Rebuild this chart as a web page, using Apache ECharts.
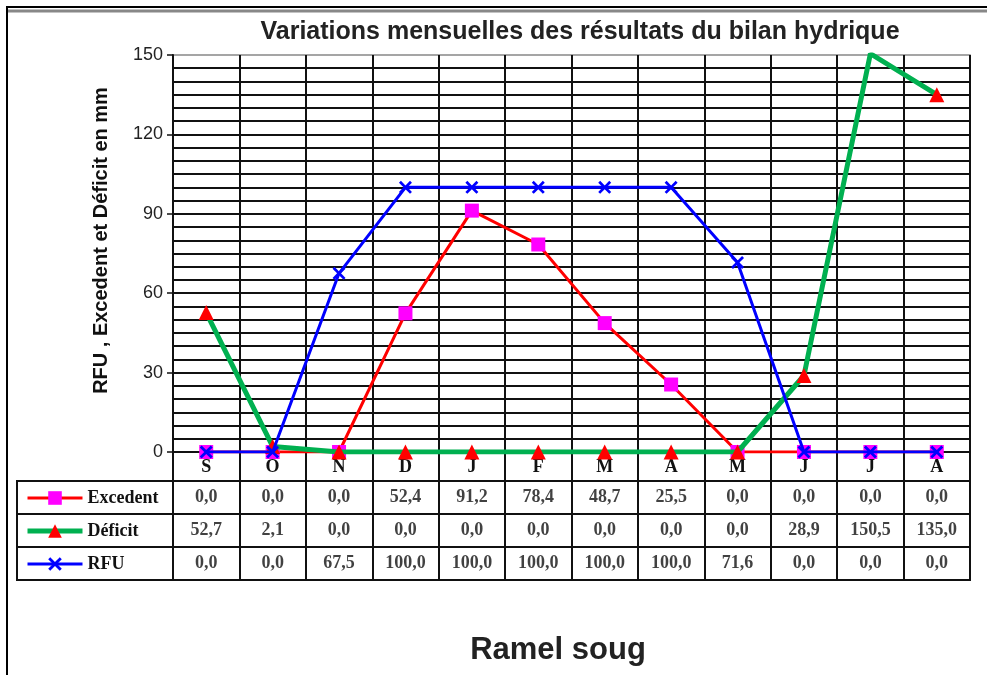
<!DOCTYPE html>
<html>
<head>
<meta charset="utf-8">
<script src="https://cdn.jsdelivr.net/npm/echarts@6/dist/echarts.min.js"></script>
<style>
html, body { margin: 0; padding: 0; background: #fff; }
#chart { width: 987px; height: 675px; }
</style>
</head>
<body>
<div id="chart"></div>
<script>
// monthly water balance, Ramel soug
const months = ['S', 'O', 'N', 'D', 'J', 'F', 'M', 'A', 'M', 'J', 'J', 'A']
const excedent = [0.0, 0.0, 0.0, 52.4, 91.2, 78.4, 48.7, 25.5, 0.0, 0.0, 0.0, 0.0]
const deficit = [52.7, 2.1, 0.0, 0.0, 0.0, 0.0, 0.0, 0.0, 0.0, 28.9, 150.5, 135.0]
const rfu = [0.0, 0.0, 67.5, 100.0, 100.0, 100.0, 100.0, 100.0, 71.6, 0.0, 0.0, 0.0]
const rowNames = ['Excedent', 'Déficit', 'RFU']

const serif = '"Liberation Serif", "Times New Roman", serif'
const sans = '"Liberation Sans", Arial, sans-serif'
const crossSymbol = 'path://M0,1.5L1.5,0L5,3.5L8.5,0L10,1.5L6.5,5L10,8.5L8.5,10L5,6.5L1.5,10L0,8.5L3.5,5Z'

function fmt(v) {
  return v.toFixed(1).replace('.', ',')
}

const chart = echarts.init(document.getElementById('chart'))

const plotLeft = 173
const plotWidth = 797

function tableRow(values, r) {
  return {
    name: 't' + rowNames[r],
    type: 'scatter',
    xAxisIndex: 2,
    yAxisIndex: 2,
    silent: true,
    symbolSize: 1,
    itemStyle: { color: 'transparent' },
    label: {
      show: true,
      position: 'inside',
      formatter: p => fmt(p.value[2]),
      fontFamily: serif,
      fontWeight: 'bold',
      fontSize: 18,
      color: '#111'
    },
    data: values.map((v, i) => [i, r, v])
  }
}

chart.setOption({
  animation: false,
  title: [
    {
      text: 'Variations mensuelles des résultats du bilan hydrique',
      left: 575,
      top: 15,
      textAlign: 'center',
      textStyle: { fontFamily: sans, fontWeight: 'bold', fontSize: 25, color: '#222' }
    },
    {
      text: 'Ramel soug',
      left: 553,
      top: 630,
      textAlign: 'center',
      textStyle: { fontFamily: sans, fontWeight: 'bold', fontSize: 31, color: '#222' }
    }
  ],
  legend: {
    data: [
      { name: 'Excedent', lineStyle: { width: 3 } },
      { name: 'Déficit', lineStyle: { width: 5 } },
      { name: 'RFU', lineStyle: { width: 3 } }
    ],
    orient: 'vertical',
    left: 20,
    top: 484,
    itemWidth: 55,
    itemHeight: 17,
    itemGap: 15,
    textStyle: { fontFamily: serif, fontWeight: 'bold', fontSize: 18, color: '#111', lineHeight: 18 }
  },
  grid: [
    { left: plotLeft, top: 55, width: plotWidth, height: 397, show: true, borderColor: '#888', borderWidth: 1.5 },
    { left: plotLeft, top: 452, width: plotWidth, height: 29, show: true, borderColor: '#111', borderWidth: 2 },
    { left: plotLeft, top: 481, width: plotWidth, height: 99, show: true, borderColor: '#111', borderWidth: 2 },
    { left: 17, top: 481, width: 156, height: 99, show: true, borderColor: '#111', borderWidth: 2 }
  ],
  xAxis: [
    {
      gridIndex: 0,
      type: 'category',
      data: months,
      boundaryGap: true,
      axisLine: { lineStyle: { color: '#111', width: 2 } },
      axisTick: { show: false },
      axisLabel: { interval: 0, margin: 6, fontFamily: serif, fontWeight: 'bold', fontSize: 18, color: '#111' },
      splitLine: { show: true, interval: 0, lineStyle: { color: '#111', width: 2 } }
    },
    {
      gridIndex: 1,
      type: 'category',
      data: months,
      axisLine: { show: false },
      axisTick: { show: false },
      axisLabel: { show: false },
      splitLine: { show: true, interval: 0, lineStyle: { color: '#111', width: 2 } }
    },
    {
      gridIndex: 2,
      type: 'category',
      data: months,
      axisLine: { show: false },
      axisTick: { show: false },
      axisLabel: { show: false },
      splitLine: { show: true, interval: 0, lineStyle: { color: '#111', width: 2 } }
    },
    {
      gridIndex: 3,
      type: 'value',
      show: false
    }
  ],
  yAxis: [
    {
      gridIndex: 0,
      type: 'value',
      min: 0,
      max: 150,
      interval: 30,
      name: 'RFU , Excedent et Déficit en mm',
      nameLocation: 'middle',
      nameRotate: 90,
      nameGap: 62,
      nameTextStyle: { fontFamily: sans, fontWeight: 'bold', fontSize: 20, color: '#111', padding: [0, 0, 0, 26] },
      axisLine: { show: true, lineStyle: { color: '#111', width: 2 } },
      axisTick: { show: true, length: 6, lineStyle: { color: '#111', width: 1.5 } },
      axisLabel: { margin: 10, fontFamily: sans, fontSize: 18, color: '#222' },
      splitLine: { show: true, showMaxLine: false, lineStyle: { color: '#111', width: 2 } },
      minorSplitLine: { show: true, lineStyle: { color: '#111', width: 2 } },
      minorTick: { show: false, splitNumber: 6 }
    },
    { gridIndex: 1, type: 'value', show: false },
    {
      gridIndex: 2,
      type: 'category',
      data: rowNames,
      inverse: true,
      axisLine: { show: false },
      axisTick: { show: false },
      axisLabel: { show: false },
      splitLine: { show: true, interval: 0, lineStyle: { color: '#111', width: 2 } }
    },
    {
      gridIndex: 3,
      type: 'category',
      data: rowNames,
      inverse: true,
      axisLine: { show: false },
      axisTick: { show: false },
      axisLabel: { show: false },
      splitLine: { show: true, interval: 0, lineStyle: { color: '#111', width: 2 } }
    }
  ],
  series: [
    {
      name: 'Excedent',
      type: 'line',
      data: excedent,
      symbol: 'rect',
      symbolSize: 14,
      itemStyle: { color: '#ff00ff' },
      lineStyle: { color: '#ff0000', width: 3 },
      z: 3
    },
    {
      name: 'Déficit',
      type: 'line',
      data: deficit,
      symbol: 'triangle',
      symbolSize: 15,
      itemStyle: { color: '#ff0000' },
      lineStyle: { color: '#00b050', width: 5 },
      z: 4
    },
    {
      name: 'RFU',
      type: 'line',
      data: rfu,
      symbol: crossSymbol,
      symbolSize: 13,
      itemStyle: { color: '#0000ff' },
      lineStyle: { color: '#0000ff', width: 3 },
      z: 5
    },
    tableRow(excedent, 0),
    tableRow(deficit, 1),
    tableRow(rfu, 2)
  ],
  graphic: [
    { type: 'line', shape: { x1: 6, y1: 7, x2: 987, y2: 7 }, style: { stroke: '#000', lineWidth: 2 } },
    { type: 'line', shape: { x1: 7, y1: 6, x2: 7, y2: 675 }, style: { stroke: '#000', lineWidth: 2 } },
    { type: 'line', shape: { x1: 8, y1: 11, x2: 987, y2: 11 }, style: { stroke: '#888', lineWidth: 3 } }
  ]
})
</script>
</body>
</html>
